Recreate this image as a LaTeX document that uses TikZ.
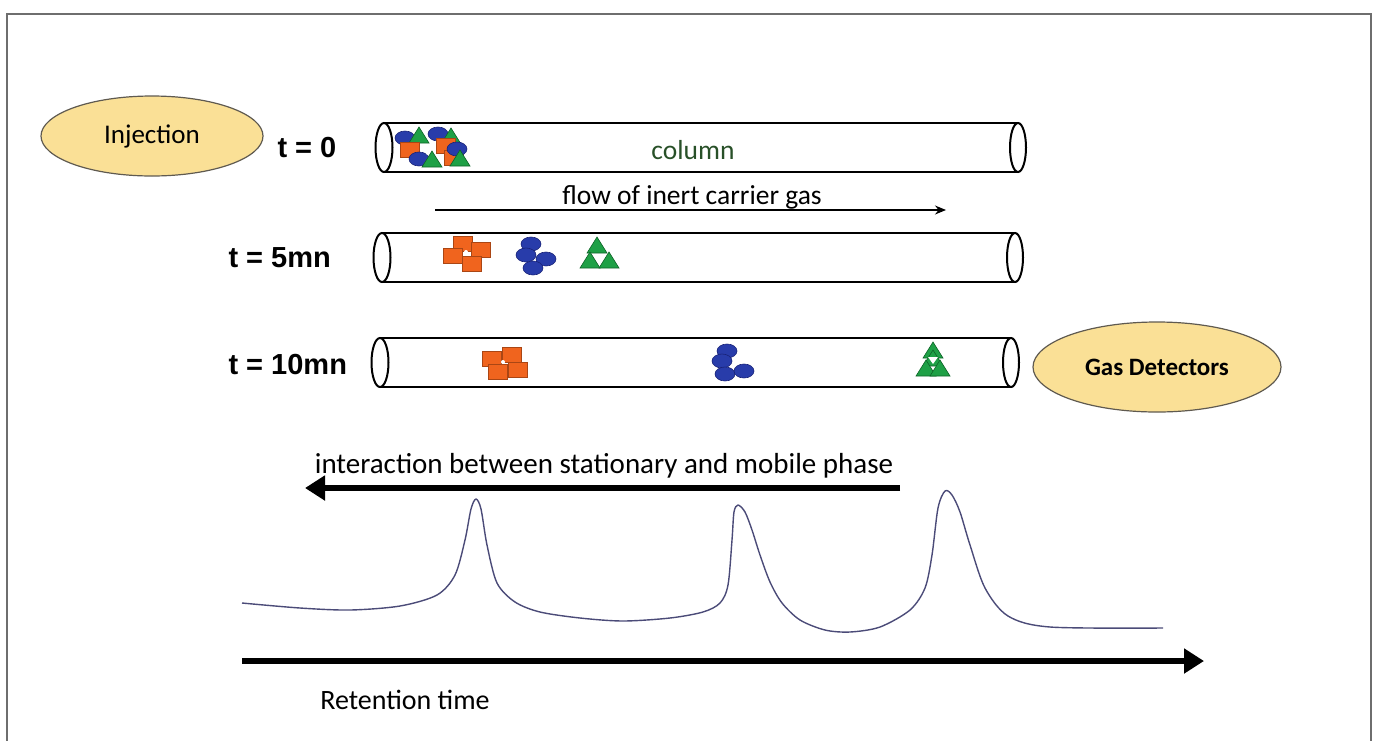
\documentclass[tikz,border=0pt]{standalone}
\usepackage{fontspec}
\setmainfont{Carlito}
\newfontfamily\arialfont{Liberation Sans}
\usetikzlibrary{shapes.geometric,arrows.meta}
\definecolor{framegray}{RGB}{110,110,110}
\definecolor{ellfill}{RGB}{250,224,150}
\definecolor{ellline}{RGB}{95,90,80}
\definecolor{orfill}{RGB}{240,100,30}
\definecolor{ordraw}{RGB}{170,70,20}
\definecolor{blfill}{RGB}{40,60,170}
\definecolor{bldraw}{RGB}{25,35,120}
\definecolor{grfill}{RGB}{30,160,70}
\definecolor{grdraw}{RGB}{15,100,40}
\definecolor{coltext}{RGB}{40,80,40}
\definecolor{curvecol}{RGB}{75,75,120}
\newcommand{\orsq}[2]{\filldraw[fill=orfill,draw=ordraw,line width=0.8] (#1,#2) rectangle ++(19,15);}
\newcommand{\blel}[2]{\filldraw[fill=blfill,draw=bldraw,line width=0.6] (#1,#2) ellipse [x radius=10,y radius=7];}
\newcommand{\grtri}[2]{\filldraw[fill=grfill,draw=grdraw,line width=0.6] (#1,#2) -- ++(-10,16) -- ++(20,0) -- cycle;}
\newcommand{\tubedraw}[4]{%
  \draw[tubeline] (#1,#3-#4) -- (#2,#3-#4);
  \draw[tubeline] (#1,#3+#4) -- (#2,#3+#4);
  \draw[tubeend] (#1,#3) ellipse [x radius=8.5,y radius=#4];
  \draw[tubeend] (#2,#3) ellipse [x radius=8,y radius=#4];}
\begin{document}
\begin{tikzpicture}[x=1pt,y=-1pt,
  tubeline/.style={line width=2.6,black},
  tubeend/.style={line width=2,black},
  bubble/.style={ellipse,draw=ellline,fill=ellfill,line width=1.2,inner sep=0pt},
  tlabel/.style={font=\arialfont\bfseries\fontsize{29}{32}\selectfont,anchor=west},
  lbl/.style={font=\fontsize{28}{32}\selectfont},
  thickarrow/.style={line width=5.5,-{Triangle[length=20,width=24]}},
  thinarrow/.style={line width=1.2,-{Stealth[length=11,width=9]}}]
\useasboundingbox (0,0) rectangle (1376,740);
% frame
\draw[framegray,line width=1.6] (7,745) -- (7,14) -- (1371,14) -- (1371,745);

% ellipses
\node[bubble,minimum width=222,minimum height=80,font=\fontsize{27}{30}\selectfont] (inj) at (152,136) {Injection};
\node[bubble,minimum width=248,minimum height=90,font=\bfseries\fontsize{25}{29}\selectfont] (det) at (1157,367) {Gas Detectors};

% time labels
\node[tlabel] (t0) at (274,148) {t = 0};
\node[tlabel] (t5) at (225,258) {t = 5mn};
\node[tlabel] (t10) at (225,365) {t = 10mn};

% tubes
\tubedraw{384}{1018}{147.5}{24.5}
\tubedraw{382}{1015}{257.5}{24.5}
\tubedraw{380}{1011}{362.5}{24.5}

\node[lbl,text=coltext,font=\fontsize{27.5}{31}\selectfont] (col) at (693,150) {column};

% flow arrow
\node[lbl,font=\fontsize{27.5}{31}\selectfont] (flow) at (692,197) {flow of inert carrier gas};
\coordinate (fa) at (435,210);
\coordinate (fb) at (946,210);
\draw[thinarrow] (fa) -- (fb);

% t=0 mixture
\blel{405}{138}
\grtri{419}{127}
\blel{438}{134}
\grtri{451}{128}
\orsq{400}{142}
\orsq{436}{138}
\orsq{444}{150}
\blel{419}{159}
\grtri{432}{151}
\blel{457}{149}
\grtri{460}{150}
\fill[white] (423,148) -- (431,148) -- (427,155) -- cycle;

% t=5 groups
\orsq{453}{236}
\orsq{443}{248}
\orsq{471}{242}
\orsq{462}{256}
\fill[white] (466,252) circle (2);
\blel{531}{244}
\blel{526}{255}
\blel{546}{259}
\blel{533}{268}
\grtri{597}{237}
\grtri{590}{252}
\grtri{609}{252}
\fill[white] (594,255) -- (604,255) -- (599,262) -- cycle;

% t=10 groups
\orsq{482}{351}
\orsq{502}{347}
\orsq{488}{364}
\orsq{508}{362}
\fill[white] (503,362) circle (2);
\blel{727}{351}
\blel{722}{361}
\blel{725}{374}
\blel{744}{371}
\grtri{933}{342}
\grtri{933}{350}
\grtri{926}{360}
\grtri{940}{360}
\fill[white] (928,357) -- (938,357) -- (933,364) -- cycle;

% interaction arrow
\node[lbl,font=\fontsize{29}{33}\selectfont] (inter) at (604,466) {interaction between stationary and mobile phase};
\coordinate (ia) at (900,488);
\coordinate (ib) at (305,488);
\draw[thickarrow] (ia) -- (ib);

% chromatogram
\draw[curvecol,line width=1.4,line join=round] plot[smooth,tension=0.5] coordinates {
(242,603) (300,608) (350,610) (400,606) (437,595) (455,575) (465,540) (471,509) (476,499) (481,509) (487,545) (497,583) (515,602) (540,612) (580,618) (623,621) (670,618) (703,612) (720,603) (728,585) (732,540) (734,512) (738,505) (745,512) (752,530) (760,555) (770,582) (782,603) (800,620) (825,630) (850,632) (880,627) (910,610) (925,588) (932,555) (938,508) (945,491) (952,495) (960,512) (970,545) (985,588) (1008,616) (1050,627) (1163,628)};

% retention time axis
\coordinate (ra) at (242,661);
\coordinate (rb) at (1204,661);
\draw[thickarrow] (ra) -- (rb);
\node[lbl,font=\fontsize{28}{32}\selectfont] (ret) at (405,700) {Retention time};
\end{tikzpicture}
\end{document}
